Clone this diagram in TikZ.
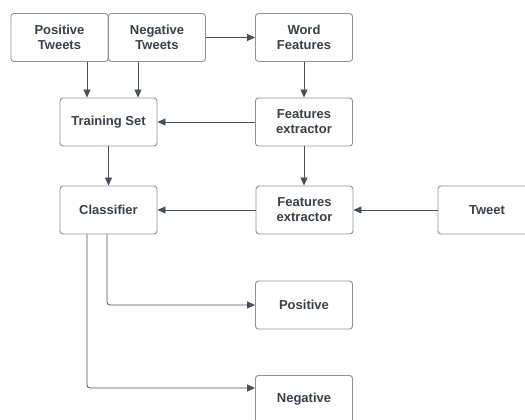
\documentclass[tikz,border=0pt]{standalone}
\usepackage{fontspec}
\setmainfont{Liberation Sans}
\usetikzlibrary{arrows.meta}
\definecolor{txt}{HTML}{3B4049}
\definecolor{edge}{HTML}{8E9299}
\definecolor{wire}{HTML}{4A505A}
\tikzset{
  box/.style={draw=edge, line width=0.9pt, rounded corners=3pt, fill=white,
    minimum width=97pt, minimum height=48pt, inner sep=0pt,
    align=center, text=txt,
    font=\fontsize{13}{15}\selectfont\bfseries},
  arr/.style={draw=wire, line width=0.8pt, rounded corners=3pt,
    -{Triangle[length=8pt,width=7pt]}}
}
\begin{document}
\begin{tikzpicture}[x=1pt,y=-1pt]
\useasboundingbox (0,0) rectangle (525,420);

% sources
\node[box] (ptw) at (59.5,37.5) {Positive\\Tweets};
\node[box] (ntw) at (157,37.5) {Negative\\Tweets};
\node[box] (wf)  at (304,37.5) {Word\\Features};

% training path
\node[box] (ts)  at (108.5,122) {Training Set};
\node[box] (fe1) at (304,122) {Features\\extractor};

% classification path
\node[box] (cls) at (108.5,210) {Classifier};
\node[box] (fe2) at (304.5,210) {Features\\extractor};
\node[box, minimum width=98pt] (tw) at (487,210) {Tweet};

% outcomes
\node[box] (pos) at (304,305) {Positive};
\node[box] (neg) at (304,399.5) {Negative};

% connectors
\draw[arr] ([xshift=27.5pt]ptw.south) -- ([xshift=27.5pt]ptw.south |- ts.north);
\draw[arr] ([xshift=-19pt]ntw.south) -- ([xshift=-19pt]ntw.south |- ts.north);
\draw[arr] (ntw.east) -- (wf.west);
\draw[arr] (wf.south) -- (fe1.north);
\draw[arr] (fe1.west) -- (ts.east);
\draw[arr] (ts.south) -- (cls.north);
\draw[arr] (fe1.south) -- (fe1.south |- fe2.north);
\draw[arr] (tw.west) -- (fe2.east);
\draw[arr] (fe2.west) -- (cls.east);
\draw[arr] ([xshift=-1.5pt]cls.south) |- (pos.west);
\draw[arr] ([xshift=-21.5pt]cls.south) |- ([yshift=11.5pt]neg.west);
\end{tikzpicture}
\end{document}
